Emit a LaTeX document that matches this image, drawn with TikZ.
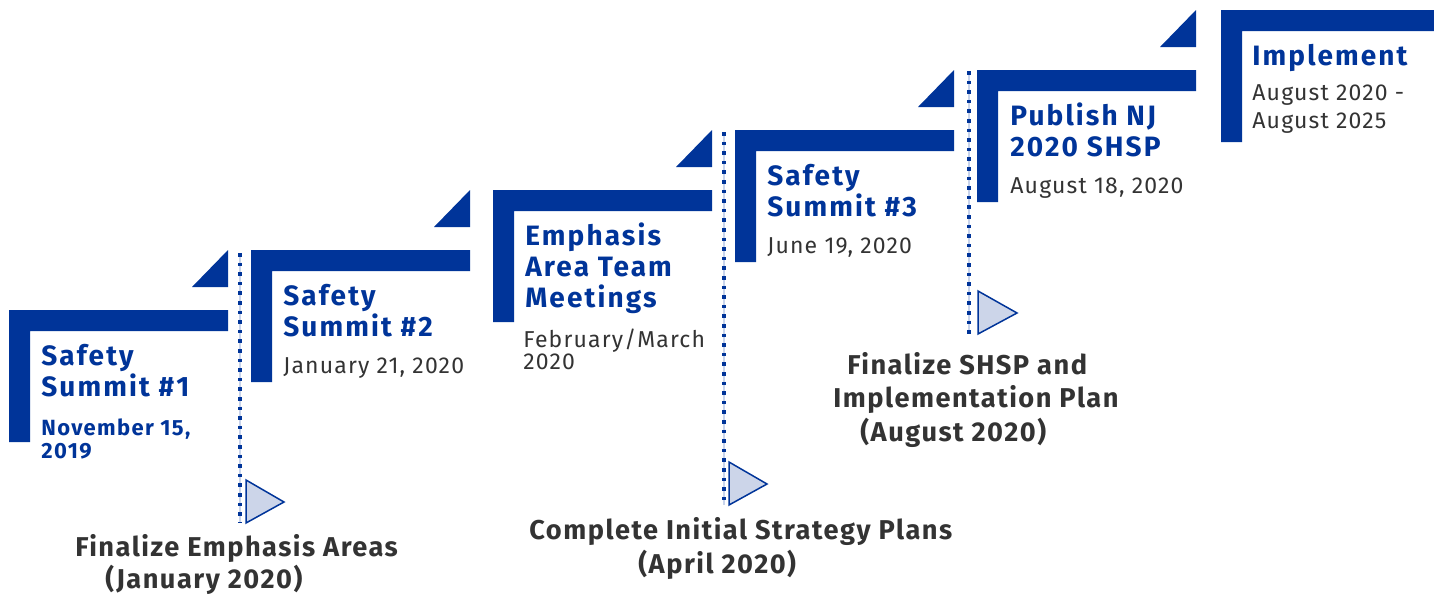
\documentclass[tikz,border=0pt]{standalone}
\usepackage{fontspec}
\setmainfont{Fira Sans}
\newfontfamily\ttlface[LetterSpace=7.5]{Fira Sans}
\newfontfamily\capface[LetterSpace=5.5]{Fira Sans}
\newfontfamily\datface[LetterSpace=5]{Fira Sans}
\newfontfamily\bdatface[LetterSpace=6]{Fira Sans}
\usetikzlibrary{calc}
\definecolor{njblue}{RGB}{0,52,153}
\definecolor{txtgrey}{RGB}{51,51,51}
\definecolor{trifill}{RGB}{204,213,233}
\definecolor{dotlight}{RGB}{200,212,236}
\begin{document}
\begin{tikzpicture}[x=0.5pt,y=-0.5pt,
  stepbar/.style={fill=njblue},
  title/.style={anchor=base west, inner sep=0pt, align=left, text=njblue,
    font=\ttlface\bfseries\fontsize{14}{15.5}\selectfont},
  datebold/.style={anchor=base west, inner sep=0pt, align=left, text=njblue,
    font=\bdatface\bfseries\fontsize{11}{11.5}\selectfont},
  date/.style={anchor=base west, inner sep=0pt, align=left, text=txtgrey,
    font=\datface\fontsize{11.5}{11.5}\selectfont},
  caption/.style={anchor=base west, inner sep=0pt, align=left, text=txtgrey,
    font=\capface\bfseries\fontsize{13.6}{16}\selectfont},
  dotline/.style={draw=njblue, line width=1.9pt, dash pattern=on 1.8pt off 3pt},
  dotback/.style={draw=dotlight, line width=0.6pt},
  pointer/.style={draw=njblue, fill=trifill, line width=0.75pt, line join=miter}
]
\useasboundingbox (0,0) rectangle (1434,594);

% step origins
\coordinate (s1) at (9,310);
\coordinate (s2) at (251,250);
\coordinate (s3) at (493,190);
\coordinate (s4) at (735,130);
\coordinate (s5) at (977,70);
\coordinate (s6) at (1221,10);

% L-shaped bars with corner triangles
\foreach \s in {s1,s2,s3,s4,s5}{
  \fill[stepbar] (\s) -- ++(219,0) -- ++(0,21) -- ++(-198,0) -- ++(0,111) -- ++(-21,0) -- cycle;
  \fill[stepbar] ($(\s)+(219,-60)$) -- ($(\s)+(219,-23)$) -- ($(\s)+(183,-23)$) -- cycle;
}
\fill[stepbar] (s6) -- (1434,10) -- (1434,31) -- ($(s6)+(21,21)$) -- ($(s6)+(21,132)$) -- ($(s6)+(0,132)$) -- cycle;

% dotted milestone lines
\coordinate (d1t) at (240,253); \coordinate (d1b) at (240,523);
\coordinate (d2t) at (724,132); \coordinate (d2b) at (724,505);
\coordinate (d3t) at (969,71);  \coordinate (d3b) at (969,334);
\foreach \a/\b in {d1t/d1b,d2t/d2b,d3t/d3b}{
  \draw[dotback] (\a) -- (\b);
  \draw[dotline] (\a) -- (\b);
}

% pointer triangles
\draw[pointer] (246,480) -- (284,502) -- (246,523) -- cycle;
\draw[pointer] (729,462) -- (767,484) -- (729,505) -- cycle;
\draw[pointer] (978,291) -- (1017,313) -- (978,334) -- cycle;

% step texts (anchored at the baseline of their last line)
\node[title] (t1) at (41,396) {Safety\\Summit \#1};
\node[datebold] (d1) at (41,458) {November 15,\\2019};
\node[title] (t2) at (283,336) {Safety\\Summit \#2};
\node[date] (dt2) at (283,373) {January 21, 2020};
\node[title] (t3) at (525,307) {Emphasis\\Area Team\\Meetings};
\node[date, font=\datface\fontsize{11.5}{11}\selectfont] (dt3) at (523,369) {February/March\\2020};
\node[title] (t4) at (767,216) {Safety\\Summit \#3};
\node[date] (dt4) at (767,253) {June 19, 2020};
\node[title] (t5) at (1010,156) {Publish NJ\\2020 SHSP};
\node[date] (dt5) at (1010,193) {August 18, 2020};
\node[title] (t6) at (1252,65) {Implement};
\node[date, font=\datface\fontsize{11.5}{14}\selectfont] (dt6) at (1252,128) {August 2020 -\\August 2025};

% milestone captions
\node[caption] (c1) at (75,588) {Finalize Emphasis Areas\\\hspace*{15pt}(January 2020)};
\node[caption, font=\capface\bfseries\fontsize{13.6}{17}\selectfont] (c2) at (529,573) {Complete Initial Strategy Plans\\\hspace*{54.5pt}(April 2020)};
\node[caption, font=\capface\bfseries\fontsize{13.6}{16.75}\selectfont] (c3) at (833,441) {\hspace*{7pt}Finalize SHSP and\\Implementation Plan\\\hspace*{13.5pt}(August 2020)};
\end{tikzpicture}
\end{document}
